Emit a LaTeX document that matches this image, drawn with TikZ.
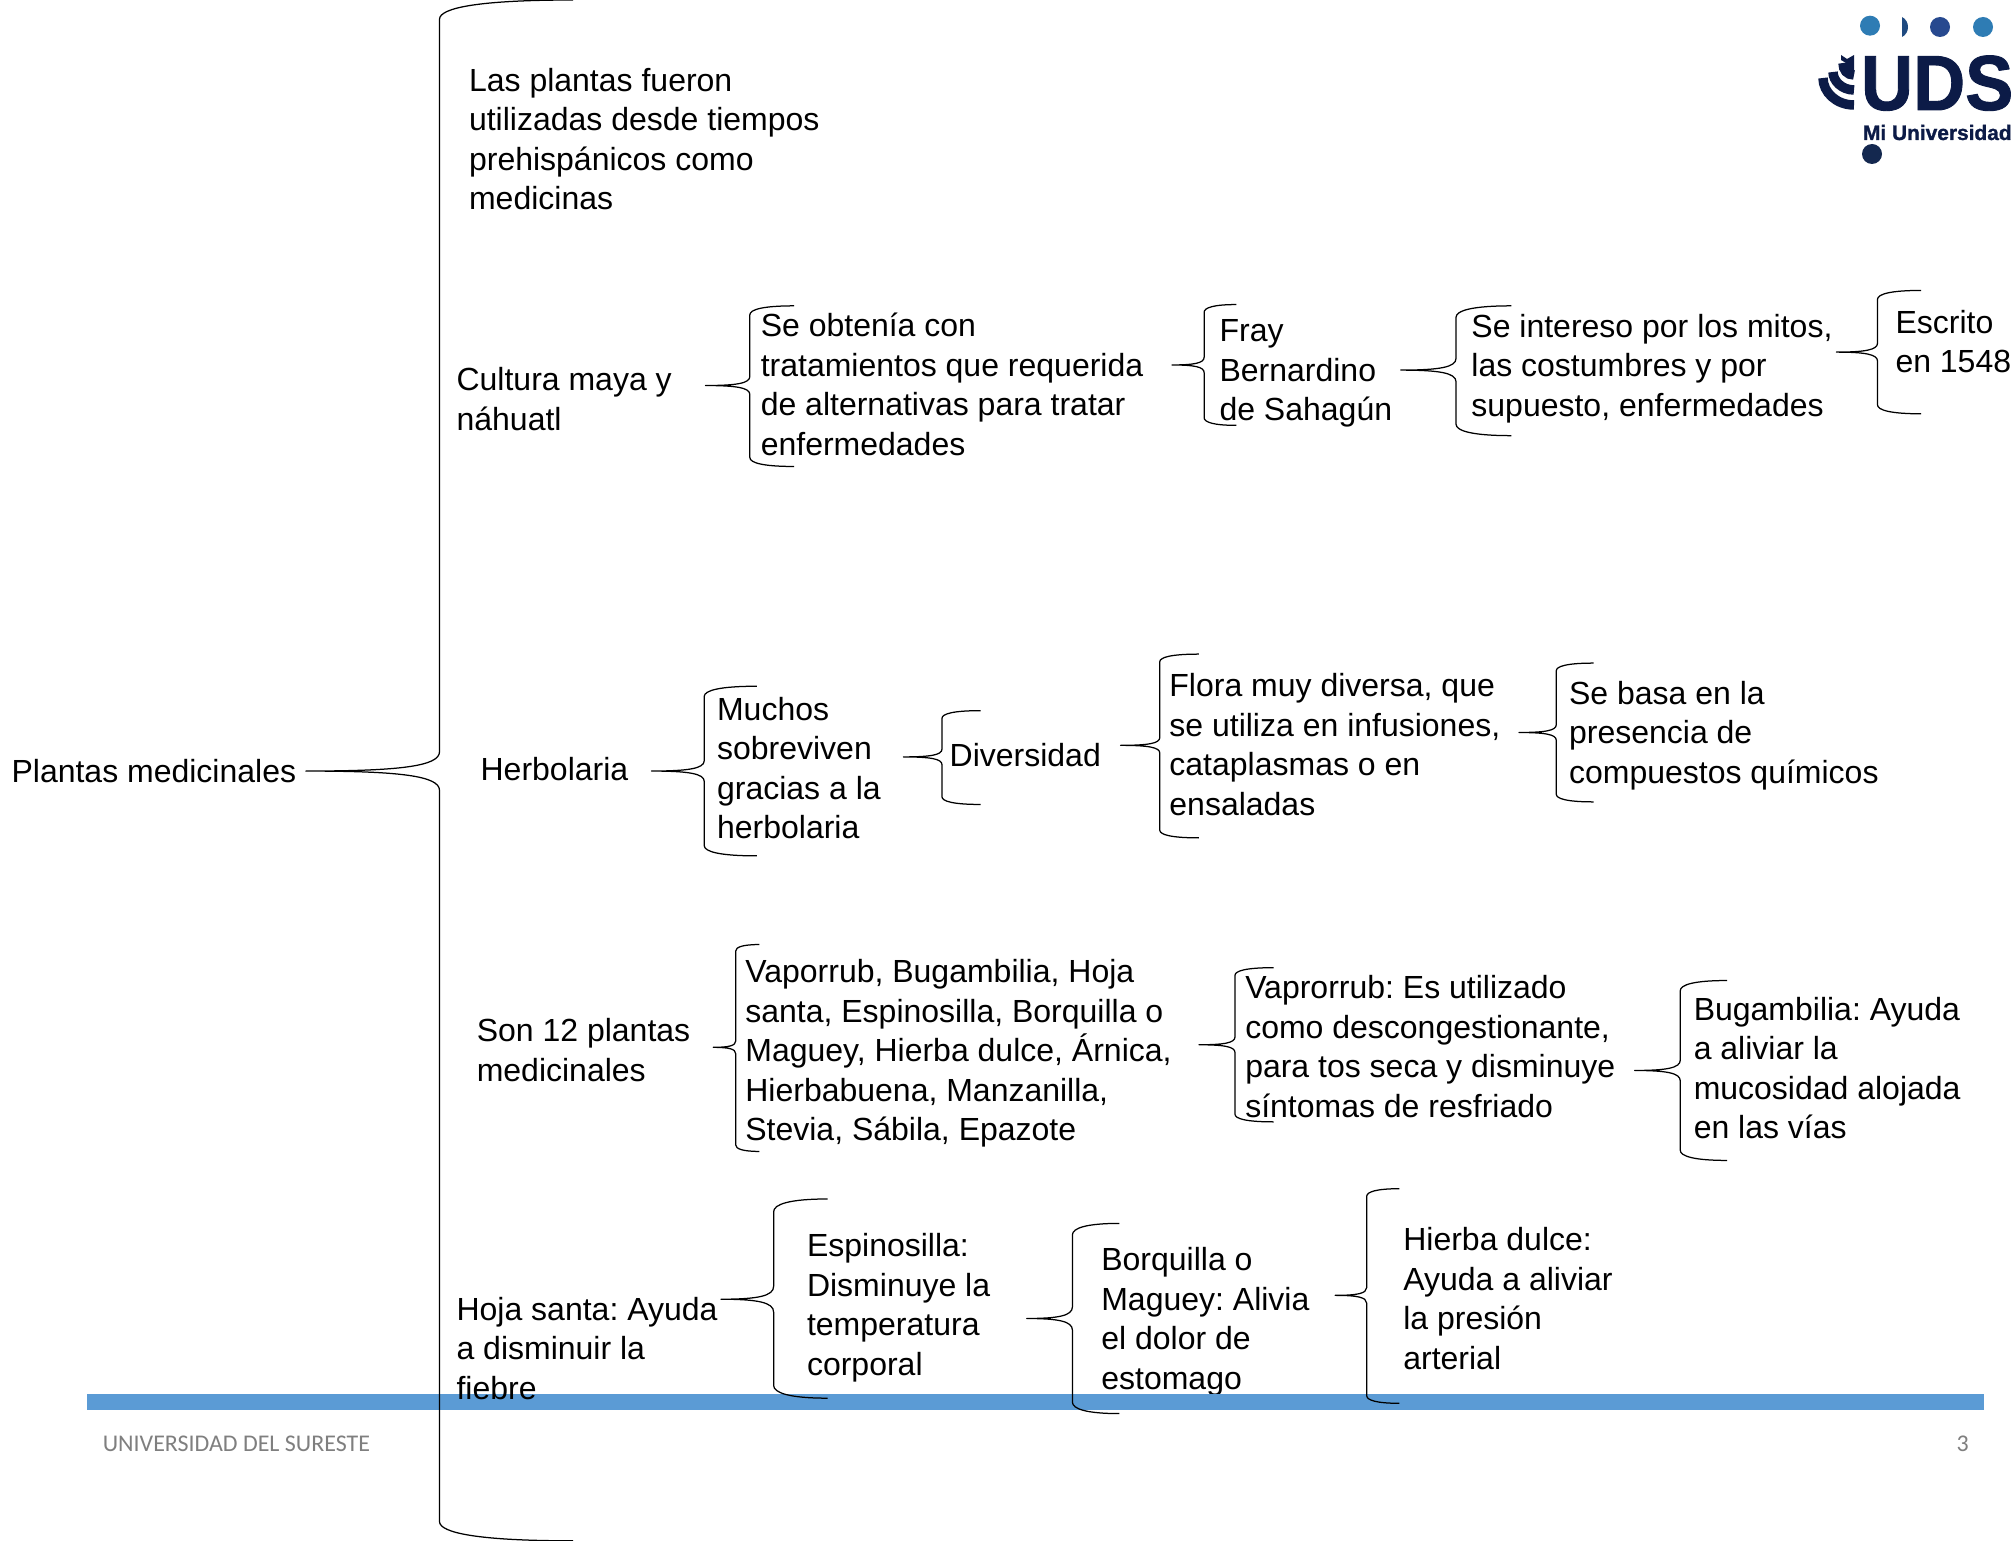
\documentclass[tikz,border=0pt]{standalone}
\usepackage{fontspec}
\setmainfont{Liberation Sans}
\newfontfamily\footfont{Carlito}
\newfontfamily\logofont[FakeBold=1.2]{Liberation Sans Bold}
\definecolor{barblue}{HTML}{5B9BD5}
\definecolor{navy}{HTML}{0C1B47}
\definecolor{footgray}{HTML}{7F7F7F}
\definecolor{dotblue}{HTML}{2E7CB4}
\definecolor{dotmid}{HTML}{27498F}
\definecolor{dothalf}{HTML}{1F4A80}
\definecolor{dotdark}{HTML}{14284F}
\tikzset{
  txt/.style={inner sep=0pt,outer sep=0pt,anchor=north west,align=left,text=black,yshift=27pt,
    font=\fontsize{32}{39.5}\selectfont\frenchspacing},
  brc/.style={draw=black,line width=1.25pt,line join=round},
  foot/.style={inner sep=0pt,outer sep=0pt,anchor=base west,text=footgray,font=\footfont\fontsize{23.95}{28}\selectfont},
  logotxt/.style={inner sep=0pt,outer sep=0pt,anchor=base west,text=navy},
  ring/.style={draw=navy,line width=9.5pt}
}
% #1 name, #2 tip x, #3 spine x, #4 end x, #5 top y, #6 mid y, #7 bottom y, #8 corner size
\newcommand{\Bracket}[8]{%
  \coordinate (#1-tip) at (#2,#6);
  \coordinate (#1-top) at (#4,#5);
  \coordinate (#1-bot) at (#4,#7);
  \draw[brc] (#1-top) .. controls ({#3+0.3*(#4-#3)},#5) and (#3,{#5+#8*0.4}) .. (#3,{#5+#8})
    -- (#3,{#6-#8}) .. controls (#3,{#6-#8*0.25}) and ({#3-0.3*(#3-#2)},#6) .. (#1-tip)
    .. controls ({#3-0.3*(#3-#2)},#6) and (#3,{#6+#8*0.25}) .. (#3,{#6+#8})
    -- (#3,{#7-#8}) .. controls (#3,{#7-#8*0.4}) and ({#3+0.3*(#4-#3)},#7) .. (#1-bot);
}
\newcommand{\Txt}[4]{\node[txt] (#1) at (#2,#3) {\rule{0pt}{27pt}#4};}
\begin{document}
\begin{tikzpicture}[x=1.28508pt,y=-1.28508pt]
\useasboundingbox (0,0) rectangle (1568,1199);
\fill[white] (0,0) rectangle (1568,1199);

% text clipped by the bar
\Txt{borq}{857}{989}{Borquilla o\\Maguey: Alivia\\el dolor de\\estomago}

% footer bar
\fill[barblue] (68,1084.8) rectangle (1544,1097.2);

% braces
\Bracket{m}{238}{342}{446}{0}{600}{1199}{15}
\Bracket{a}{549}{583.5}{618}{238}{300}{363}{7}
\Bracket{b}{912}{937}{962}{237}{284}{331}{6}
\Bracket{c}{1090}{1133}{1176}{238}{288}{339}{9}
\Bracket{d}{1429}{1461}{1495}{226}{274}{322}{7}
\Bracket{e}{507}{548}{589}{534}{600}{666}{8}
\Bracket{f}{703}{733}{763}{553}{589}{626}{6}
\Bracket{g}{872}{902.5}{933}{509}{580}{652}{6}
\Bracket{h}{1182}{1211}{1240}{516}{570}{624}{6}
\Bracket{i}{555}{572.5}{591}{735}{815}{896}{5}
\Bracket{j}{933}{961}{991}{753}{813}{873}{6}
\Bracket{k}{1272}{1307.5}{1344}{763}{833}{903}{8}
\Bracket{l}{561}{602}{644}{933}{1011}{1088}{10}
\Bracket{n}{799}{834.5}{871}{952}{1026}{1100}{9}
\Bracket{o}{1039}{1063.5}{1089}{925}{1008}{1092}{6}

% texts
\Txt{pm}{9}{609}{Plantas medicinales}
\Txt{t1}{365}{71}{Las plantas fueron\\utilizadas desde tiempos\\prehispánicos como\\medicinas}
\Txt{t2}{355.3}{304}{Cultura maya y\\náhuatl}
\Txt{t3}{592}{262}{Se obtenía con\\tratamientos que requerida\\de alternativas para tratar\\enfermedades}
\Txt{t4}{949}{266}{Fray\\Bernardino\\de Sahagún}
\Txt{t5}{1145}{262.3}{Se intereso por los mitos,\\las costumbres y por\\supuesto, enfermedades}
\Txt{t6}{1475}{259.5}{Escrito\\en 1548}
\Txt{t7}{374}{607.5}{Herbolaria}
\Txt{t8}{558}{560.5}{Muchos\\sobreviven\\gracias a la\\herbolaria}
\Txt{t9}{739}{596.5}{Diversidad}
\Txt{t10}{910}{542}{Flora muy diversa, que\\se utiliza en infusiones,\\cataplasmas o en\\ensaladas}
\Txt{t11}{1221}{548}{Se basa en la\\presencia de\\compuestos químicos}
\Txt{t12}{371}{810.7}{Son 12 plantas\\medicinales}
\Txt{t13}{580}{764.7}{Vaporrub, Bugambilia, Hoja\\santa, Espinosilla, Borquilla o\\Maguey, Hierba dulce, Árnica,\\Hierbabuena, Manzanilla,\\Stevia, Sábila, Epazote}
\Txt{t14}{969}{777.3}{Vaprorrub: Es utilizado\\como descongestionante,\\para tos seca y disminuye\\síntomas de resfriado}
\Txt{t15}{1318}{794}{Bugambilia: Ayuda\\a aliviar la\\mucosidad alojada\\en las vías}
\Txt{t16}{355.3}{1027.3}{Hoja santa: Ayuda\\a disminuir la\\fiebre}
\Txt{t17}{628}{978}{Espinosilla:\\Disminuye la\\temperatura\\corporal}
\Txt{t18}{1092}{973.2}{Hierba dulce:\\Ayuda a aliviar\\la presión\\arterial}

% footer text
\node[foot] (ft1) at (80,1129.5) {UNIVERSIDAD DEL SURESTE};
\node[foot] (ft2) at (1522.5,1129.5) {3};

% logo, in full-size pixels
\begin{scope}[x=1pt,y=-1pt]
  \fill[dotblue] (1870,25.7) circle[radius=10];
  \fill[dothalf] (1902,17) .. controls (1906,19) and (1908,23) .. (1908,27) .. controls (1908,31) and (1906,35) .. (1902,37) -- cycle;
  \fill[dotmid] (1940,27) circle[radius=10];
  \fill[dotblue] (1983,27) circle[radius=10];
  \fill[dotdark] (1872,154) circle[radius=10];
  \draw[ring] (1823,78) .. controls (1823,92) and (1836,105) .. (1854,105);
  \draw[ring] (1833,72) .. controls (1833,81) and (1842,90) .. (1854,90);
  \draw[ring] (1843,63) .. controls (1843,70) and (1847,75) .. (1854,75);
  \fill[navy] (1841,55) -- (1847,59) -- (1854,55) -- (1854,71) .. controls (1850,71) and (1847,68) .. (1846,63) -- (1841,60) -- cycle;
  \node[logotxt] (uds) at (1861,110) {\scalebox{0.925}[1]{\logofont\fontsize{78}{78}\selectfont UDS}};
  \node[logotxt] (mi) at (1863,140) {\logofont\fontsize{20.9}{22}\selectfont Mi Universidad};
\end{scope}
\end{tikzpicture}
\end{document}
